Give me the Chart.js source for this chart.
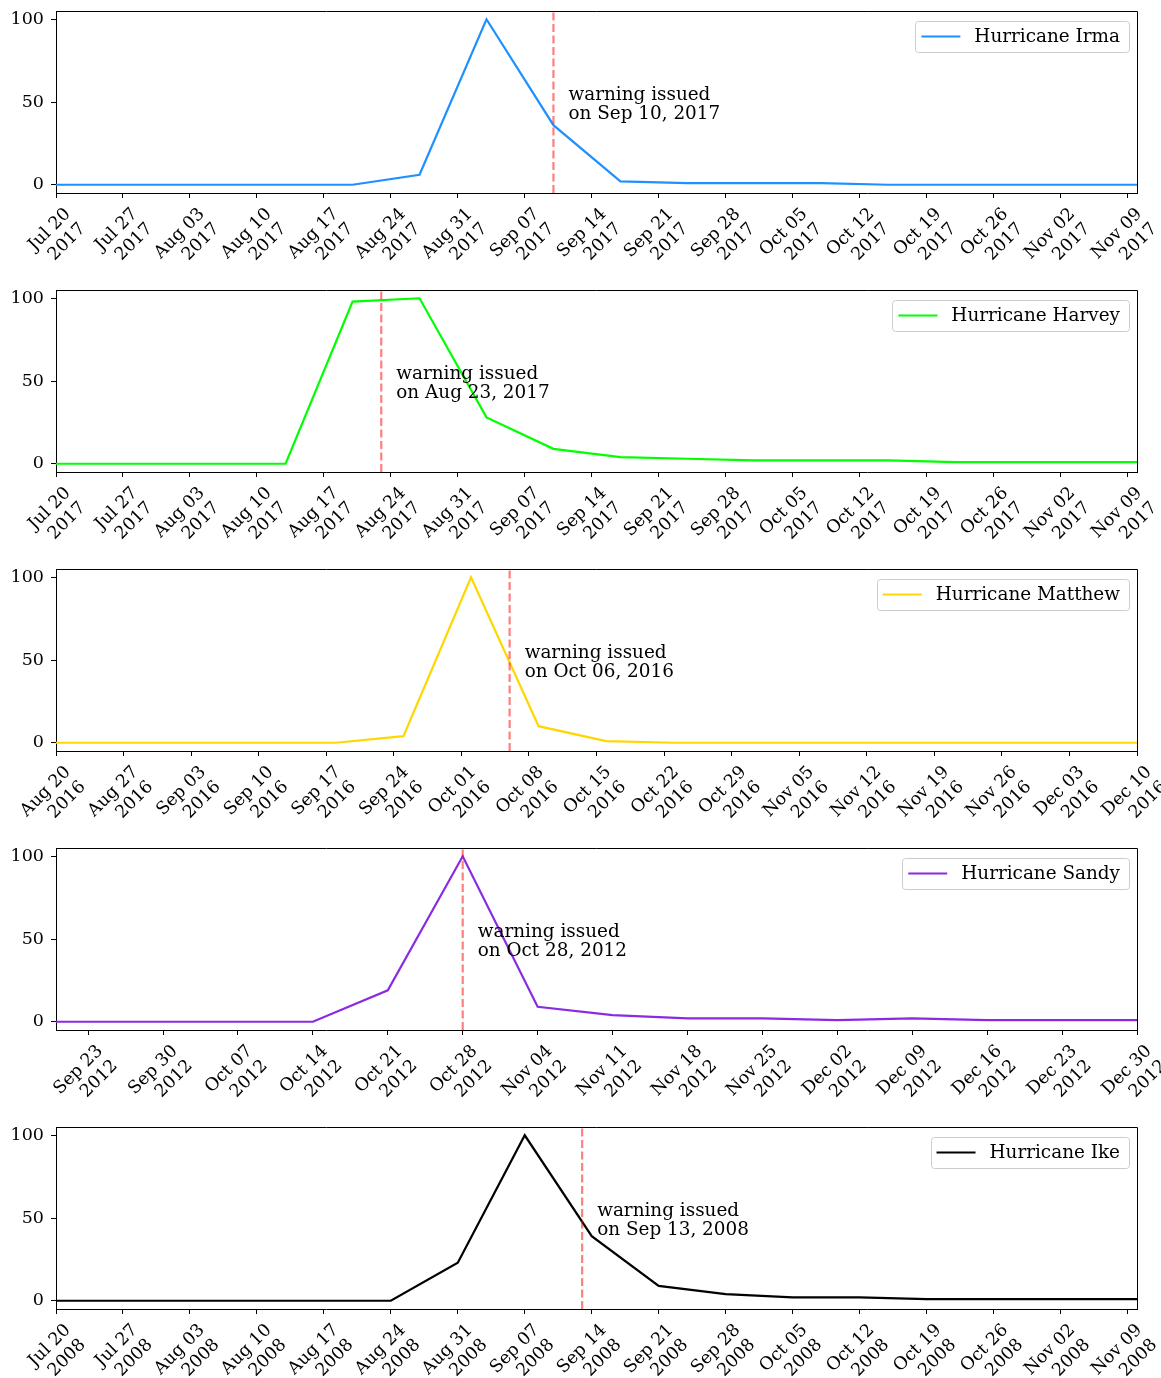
<!DOCTYPE html>
<html>
<head>
<meta charset="utf-8">
<script src="https://cdn.jsdelivr.net/npm/chart.js@4.4.1/dist/chart.umd.min.js"></script>
<style>
  body { margin: 0; background: #fff; }
  #figure { position: relative; width: 1161px; height: 1378px; }
  .panel { position: absolute; left: 0; width: 1161px; height: 279px; }
</style>
</head>
<body>
<div id="figure"></div>
<script>
// Weekly search interest (0-100) around each hurricane warning
const irmaLabel = 'Hurricane Irma';
const irmaDates = ['2017-07-16', '2017-07-23', '2017-07-30', '2017-08-06', '2017-08-13', '2017-08-20',
    '2017-08-27', '2017-09-03', '2017-09-10', '2017-09-17', '2017-09-24', '2017-10-01',
    '2017-10-08', '2017-10-15', '2017-10-22', '2017-10-29', '2017-11-05', '2017-11-12'];
const irmaValues = [0, 0, 0, 0, 0, 0, 6, 100, 36, 2, 1, 1, 1, 0, 0, 0, 0, 0];
const irmaWarning = '2017-09-10';
const irmaRange = ['2017-07-20', '2017-11-10'];

const harveyLabel = 'Hurricane Harvey';
const harveyDates = irmaDates;
const harveyValues = [0, 0, 0, 0, 0, 98, 100, 28, 9, 4, 3, 2, 2, 2, 1, 1, 1, 1];
const harveyWarning = '2017-08-23';
const harveyRange = ['2017-07-20', '2017-11-10'];

const matthewLabel = 'Hurricane Matthew';
const matthewDates = ['2016-08-14', '2016-08-21', '2016-08-28', '2016-09-04', '2016-09-11', '2016-09-18',
    '2016-09-25', '2016-10-02', '2016-10-09', '2016-10-16', '2016-10-23', '2016-10-30',
    '2016-11-06', '2016-11-13', '2016-11-20', '2016-11-27', '2016-12-04', '2016-12-11'];
const matthewValues = [0, 0, 0, 0, 0, 0, 4, 100, 10, 1, 0, 0, 0, 0, 0, 0, 0, 0];
const matthewWarning = '2016-10-06';
const matthewRange = ['2016-08-20', '2016-12-10'];

const sandyLabel = 'Hurricane Sandy';
const sandyDates = ['2012-09-16', '2012-09-23', '2012-09-30', '2012-10-07', '2012-10-14', '2012-10-21',
    '2012-10-28', '2012-11-04', '2012-11-11', '2012-11-18', '2012-11-25', '2012-12-02',
    '2012-12-09', '2012-12-16', '2012-12-23', '2012-12-30'];
const sandyValues = [0, 0, 0, 0, 0, 19, 100, 9, 4, 2, 2, 1, 2, 1, 1, 1];
const sandyWarning = '2012-10-28';
const sandyRange = ['2012-09-20', '2012-12-30'];

const ikeLabel = 'Hurricane Ike';
const ikeDates = ['2008-07-13', '2008-07-20', '2008-07-27', '2008-08-03', '2008-08-10', '2008-08-17',
    '2008-08-24', '2008-08-31', '2008-09-07', '2008-09-14', '2008-09-21', '2008-09-28',
    '2008-10-05', '2008-10-12', '2008-10-19', '2008-10-26', '2008-11-02', '2008-11-09', '2008-11-16'];
const ikeValues = [0, 0, 0, 0, 0, 0, 0, 23, 100, 39, 9, 4, 2, 2, 1, 1, 1, 1, 1];
const ikeWarning = '2008-09-13';
const ikeRange = ['2008-07-20', '2008-11-10'];

// first labelled tick of each panel (ticks are weekly from there)
const firstTicks = ['2017-07-20', '2017-07-20', '2016-08-20', '2012-09-23', '2008-07-20'];
const yTicks = [0, 50, 100];

const MONTHS = ['Jan', 'Feb', 'Mar', 'Apr', 'May', 'Jun', 'Jul', 'Aug', 'Sep', 'Oct', 'Nov', 'Dec'];
const FONT = "'DejaVu Serif', serif";
const TEXT_SIZE = 18.4;

function toDay(s) {
    const p = s.split('-');
    return Date.UTC(+p[0], +p[1] - 1, +p[2]) / 86400000;
}
function dayParts(d) {
    const dt = new Date(d * 86400000);
    return [MONTHS[dt.getUTCMonth()], String(dt.getUTCDate()).padStart(2, '0'), String(dt.getUTCFullYear())];
}

Chart.defaults.font.family = FONT;

// frame, legend box and the warning note
const panelDecor = {
    id: 'panelDecor',
    afterDraw(chart, args, opts) {
        const ctx = chart.ctx;
        const a = chart.chartArea;
        const xs = chart.scales.x;
        const ys = chart.scales.y;
        ctx.save();

        // top and right spines
        ctx.strokeStyle = '#000';
        ctx.lineWidth = 1;
        ctx.beginPath();
        const t = Math.round(a.top) + 0.5, r = Math.round(a.right) + 0.5;
        ctx.moveTo(Math.round(a.left), t);
        ctx.lineTo(r, t);
        ctx.lineTo(r, Math.round(a.bottom) + 1);
        ctx.stroke();

        // warning note
        const wx = xs.getPixelForValue(toDay(opts.warning));
        const p = dayParts(toDay(opts.warning));
        const ty = ys.getPixelForValue(51.5);
        ctx.font = TEXT_SIZE + 'px ' + FONT;
        ctx.fillStyle = '#000';
        ctx.textAlign = 'left';
        ctx.textBaseline = 'alphabetic';
        ctx.fillText('warning issued', wx + 15, ty);
        ctx.fillText('on ' + p[0] + ' ' + p[1] + ', ' + p[2], wx + 15, ty + 19);

        // legend
        const ds = chart.data.datasets[1];
        const tw = ctx.measureText(ds.label).width;
        const boxH = 31;
        const boxW = 6 + 39 + 14 + tw + 9;
        const boxR = a.right - 8;
        const boxT = a.top + 10;
        const boxL = boxR - boxW;
        ctx.beginPath();
        ctx.roundRect(Math.round(boxL) + 0.5, Math.round(boxT) + 0.5, Math.round(boxW), boxH, 3);
        ctx.fillStyle = 'rgba(255,255,255,0.8)';
        ctx.fill();
        ctx.strokeStyle = '#cccccc';
        ctx.lineWidth = 1;
        ctx.stroke();
        const cy = boxT + boxH / 2;
        ctx.beginPath();
        ctx.strokeStyle = ds.borderColor;
        ctx.lineWidth = ds.borderWidth;
        ctx.moveTo(boxL + 6, cy);
        ctx.lineTo(boxL + 45, cy);
        ctx.stroke();
        ctx.fillStyle = '#000';
        ctx.textBaseline = 'middle';
        ctx.fillText(ds.label, boxL + 59, cy + 1);
        ctx.restore();
    }
};

const panels = [
    { label: irmaLabel, dates: irmaDates, values: irmaValues, warning: irmaWarning, range: irmaRange, color: '#1e90ff' },
    { label: harveyLabel, dates: harveyDates, values: harveyValues, warning: harveyWarning, range: harveyRange, color: '#00ff00' },
    { label: matthewLabel, dates: matthewDates, values: matthewValues, warning: matthewWarning, range: matthewRange, color: '#ffd700' },
    { label: sandyLabel, dates: sandyDates, values: sandyValues, warning: sandyWarning, range: sandyRange, color: '#8a2be2' },
    { label: ikeLabel, dates: ikeDates, values: ikeValues, warning: ikeWarning, range: ikeRange, color: '#000000' }
];

const figure = document.getElementById('figure');

panels.forEach((pn, i) => {
    const div = document.createElement('div');
    div.className = 'panel';
    div.style.top = (i * 279) + 'px';
    const canvas = document.createElement('canvas');
    canvas.width = 1161;
    canvas.height = 279;
    div.appendChild(canvas);
    figure.appendChild(div);

    const xMin = toDay(pn.range[0]);
    const xMax = toDay(pn.range[1]);
    const tick0 = toDay(firstTicks[i]);
    const wDay = toDay(pn.warning);

    const points = pn.dates.map((d, k) => ({ x: toDay(d), y: pn.values[k] }));

    const tickFont = { family: FONT, size: 17.5, lineHeight: 1.2 };
    const axisGrid = { drawOnChartArea: false, drawTicks: true, tickLength: 5, color: '#000', tickWidth: 1 };

    new Chart(canvas, {
        type: 'line',
        data: {
            datasets: [{
                label: 'warning',
                data: [{ x: wDay, y: -5 }, { x: wDay, y: 105 }],
                borderColor: 'rgba(255,0,0,0.5)',
                borderWidth: 2.2,
                borderDash: [8, 3.5],
                pointRadius: 0,
                order: 0
            }, {
                label: pn.label,
                data: points,
                borderColor: pn.color,
                borderWidth: 2.2,
                pointRadius: 0,
                tension: 0,
                order: 1
            }]
        },
        options: {
            responsive: false,
            animation: false,
            devicePixelRatio: 1,
            events: [],
            layout: { padding: { left: 0, right: 24, top: 11, bottom: 0 } },
            plugins: {
                legend: { display: false },
                tooltip: { enabled: false },
                panelDecor: { warning: pn.warning }
            },
            scales: {
                x: {
                    type: 'linear',
                    min: xMin,
                    max: xMax,
                    afterBuildTicks: s => {
                        const ticks = [];
                        for (let d = tick0; d <= xMax; d += 7) ticks.push({ value: d });
                        s.ticks = ticks;
                    },
                    afterFit: s => { s.height = 86; s.paddingLeft = 0; s.paddingRight = 0; },
                    grid: axisGrid,
                    border: { display: true, color: '#000', width: 1 },
                    ticks: {
                        autoSkip: false,
                        minRotation: 45,
                        maxRotation: 45,
                        padding: 6,
                        labelOffset: 12,
                        color: '#000',
                        font: tickFont,
                        callback: v => {
                            const p = dayParts(v);
                            return [p[0] + ' ' + p[1], p[2]];
                        }
                    }
                },
                y: {
                    min: -5,
                    max: 105,
                    afterBuildTicks: s => { s.ticks = yTicks.map(v => ({ value: v })); },
                    afterFit: s => { s.width = 56; s.paddingTop = 0; s.paddingBottom = 0; },
                    grid: axisGrid,
                    border: { display: true, color: '#000', width: 1 },
                    ticks: { padding: 7, color: '#000', font: tickFont, callback: v => String(v) }
                }
            }
        },
        plugins: [panelDecor]
    });
});
</script>
</body>
</html>
